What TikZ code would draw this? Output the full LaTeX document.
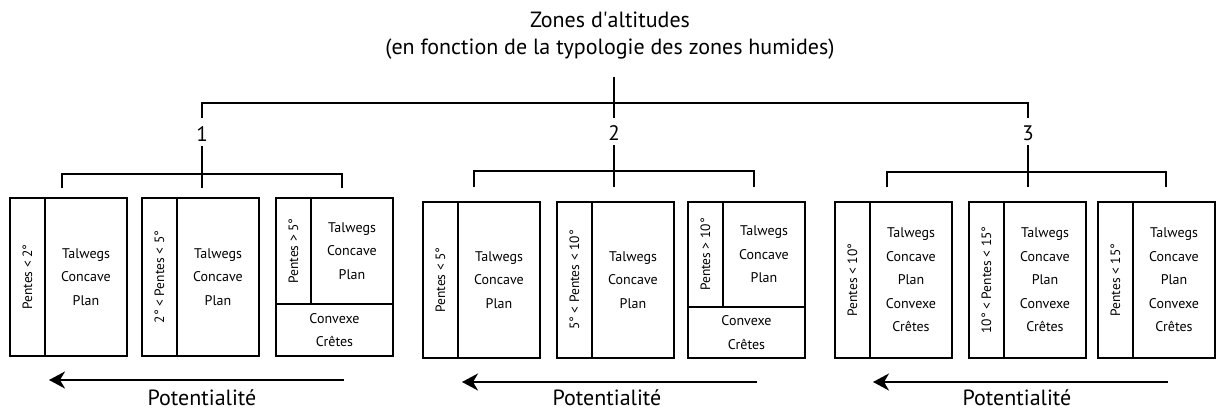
\documentclass[tikz,border=0pt]{standalone}
\usepackage{fontspec}
\setmainfont{PT Sans}
\usetikzlibrary{arrows.meta,positioning}

\tikzset{
  tree/.style={line width=1.6pt},
  zonebox/.style={draw, line width=1.4pt, anchor=north west, minimum width=117pt, inner sep=0pt, outer sep=0pt},
  slopestrip/.style={draw, line width=1.4pt, anchor=north west, minimum width=35pt, inner sep=0pt, outer sep=0pt,
    font=\fontsize{13.5}{15}\selectfont},
  formtext/.style={align=center, inner sep=0pt, font=\fontsize{14}{23.5}\selectfont},
  bignum/.style={font=\fontsize{21}{24}\selectfont},
  potarrow/.style={line width=2.2pt, -{Stealth[length=16pt,width=17pt,inset=5pt]}},
}

\begin{document}
\begin{tikzpicture}[x=1pt,y=-1pt]
  \useasboundingbox (0,0) rectangle (1216,412);

  % title and main fork
  \node[align=center, font=\fontsize{22}{27}\selectfont] (title) at (610,36)
    {Zones d\textquotesingle altitudes\\(en fonction de la typologie des zones humides)};
  \coordinate (t1) at (202,118);
  \coordinate (t3) at (1028,118);
  \draw[tree] (614,77) coordinate (root) -- (root |- t1);
  \draw[tree] (t1) -- ++(0,-15) -| (t3);

  \node[bignum] (n1) at (202,134) {1};
  \node[bignum] (n2) at (614,133) {2};
  \node[bignum] (n3) at (1028,133) {3};

  % group forks
  \coordinate (g1l) at (62,188);   \coordinate (g1r) at (342,188);
  \coordinate (g2l) at (474,187);  \coordinate (g2r) at (754,187);
  \coordinate (g3l) at (887,187);  \coordinate (g3r) at (1166,187);
  \draw[tree] (g1l) -- ++(0,-14) -| (g1r);
  \draw[tree] (g2l) -- ++(0,-16) -| (g2r);
  \draw[tree] (g3l) -- ++(0,-15) -| (g3r);
  \draw[tree] ([yshift=-1pt]n1.south) -- (n1 |- g1l);
  \draw[tree] ([yshift=-1pt]n2.south) -- (n2 |- g2l);
  \draw[tree] ([yshift=-1pt]n3.south) -- (n3 |- g3l);

  % group 1
  \node[zonebox, minimum height=158pt] (b11) at (10,198) {};
  \node[slopestrip, minimum height=158pt] (s11) at (b11.north west) {\rotatebox{90}{Pentes < 2°}};
  \node[formtext] at ([xshift=41pt]s11.east) {Talwegs\\Concave\\Plan};

  \node[zonebox, minimum height=158pt] (b12) at (142,198) {};
  \node[slopestrip, minimum height=158pt] (s12) at (b12.north west) {\rotatebox{90}{2° < Pentes < 5°}};
  \node[formtext] at ([xshift=41pt]s12.east) {Talwegs\\Concave\\Plan};

  \node[zonebox, minimum height=106pt] (b13) at (276,198) {};
  \node[slopestrip, minimum height=106pt] (s13) at (b13.north west) {\rotatebox{90}{Pentes > 5°}};
  \node[formtext] at ([xshift=41pt]s13.east) {Talwegs\\Concave\\Plan};
  \node[zonebox, minimum height=52pt] (c13) at (b13.south west) {};
  \node[formtext] at (c13.center) {Convexe\\Crêtes};

  % group 2
  \node[zonebox, minimum height=156pt] (b21) at (423,202) {};
  \node[slopestrip, minimum height=156pt] (s21) at (b21.north west) {\rotatebox{90}{Pentes < 5°}};
  \node[formtext] at ([xshift=41pt]s21.east) {Talwegs\\Concave\\Plan};

  \node[zonebox, minimum height=156pt] (b22) at (557,202) {};
  \node[slopestrip, minimum height=156pt] (s22) at (b22.north west) {\rotatebox{90}{5° < Pentes < 10°}};
  \node[formtext] at ([xshift=41pt]s22.east) {Talwegs\\Concave\\Plan};

  \node[zonebox, minimum height=105pt] (b23) at (688,202) {};
  \node[slopestrip, minimum height=105pt] (s23) at (b23.north west) {\rotatebox{90}{Pentes > 10°}};
  \node[formtext] at ([xshift=41pt]s23.east) {Talwegs\\Concave\\Plan};
  \node[zonebox, minimum height=51pt] (c23) at (b23.south west) {};
  \node[formtext] at (c23.center) {Convexe\\Crêtes};

  % group 3
  \node[zonebox, minimum height=156pt] (b31) at (835,202) {};
  \node[slopestrip, minimum height=156pt] (s31) at (b31.north west) {\rotatebox{90}{Pentes < 10°}};
  \node[formtext] at ([xshift=41pt]s31.east) {Talwegs\\Concave\\Plan\\Convexe\\Crêtes};

  \node[zonebox, minimum height=156pt] (b32) at (969,202) {};
  \node[slopestrip, minimum height=156pt] (s32) at (b32.north west) {\rotatebox{90}{10° < Pentes < 15°}};
  \node[formtext] at ([xshift=41pt]s32.east) {Talwegs\\Concave\\Plan\\Convexe\\Crêtes};

  \node[zonebox, minimum height=156pt] (b33) at (1098,202) {};
  \node[slopestrip, minimum height=156pt] (s33) at (b33.north west) {\rotatebox{90}{Pentes < 15°}};
  \node[formtext] at ([xshift=41pt]s33.east) {Talwegs\\Concave\\Plan\\Convexe\\Crêtes};

  % potentialite arrows
  \coordinate (a1s) at (344,380);  \coordinate (a1e) at (49,380);
  \coordinate (a2s) at (757,382);  \coordinate (a2e) at (462,382);
  \coordinate (a3s) at (1168,382); \coordinate (a3e) at (873,382);
  \draw[potarrow] (a1s) -- (a1e);
  \draw[potarrow] (a2s) -- (a2e);
  \draw[potarrow] (a3s) -- (a3e);
  \node[bignum, font=\fontsize{22}{24}\selectfont] (p1) at (202,398) {Potentialité};
  \node[bignum, font=\fontsize{22}{24}\selectfont] (p2) at (607,398) {Potentialité};
  \node[bignum, font=\fontsize{22}{24}\selectfont] (p3) at (1017,398) {Potentialité};
\end{tikzpicture}
\end{document}
